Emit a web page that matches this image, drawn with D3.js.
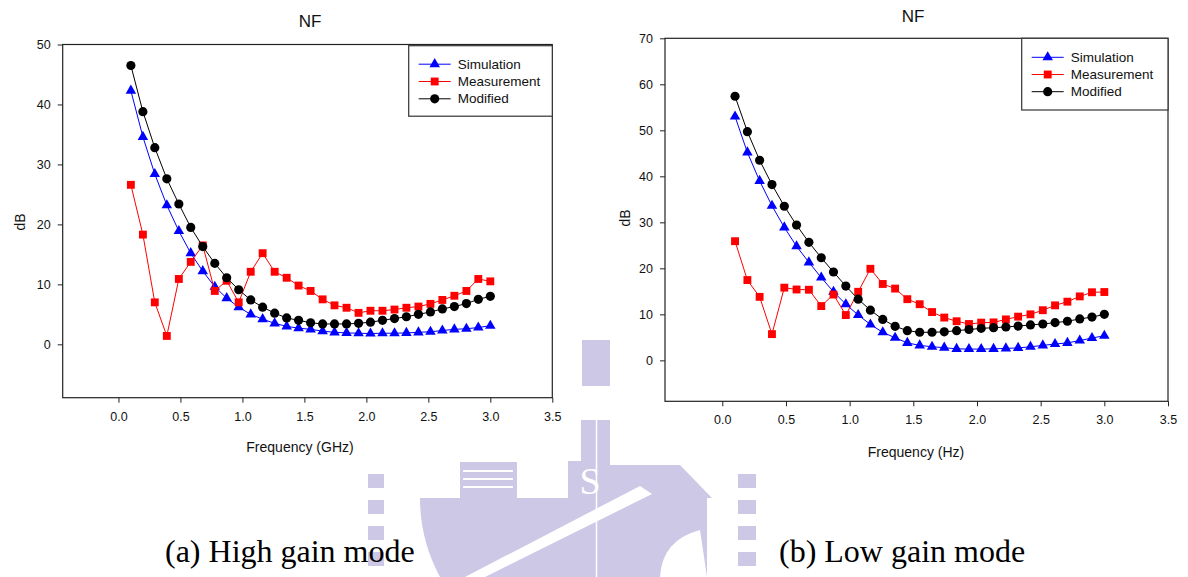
<!DOCTYPE html>
<html>
<head>
<meta charset="utf-8">
<script src="https://d3js.org/d3.v7.min.js"></script>
<style>
  body { margin:0; background:#fff; }
  svg text { font-family: Arial, "Liberation Sans", sans-serif; fill:#111; }
  svg text.caption { font-family: "Times New Roman", "Liberation Serif", serif; fill:#000; }
</style>
</head>
<body>
<div id="canvas"></div>
<script>
// frequency points (GHz), 31 sweep points
var freqs = [0.100,0.197,0.293,0.390,0.487,0.583,0.680,0.777,0.873,0.970,
             1.067,1.163,1.260,1.357,1.453,1.550,1.647,1.743,1.840,1.937,
             2.033,2.130,2.227,2.323,2.420,2.517,2.613,2.710,2.807,2.903,3.000];

// (a) high gain mode
var highSim  = [42.3,34.6,28.4,23.2,18.9,15.2,12.2,9.6,7.7,6.2,5.0,4.2,3.5,3.0,2.7,2.5,
                2.2,2.0,1.9,1.85,1.8,1.85,1.85,1.9,2.0,2.1,2.3,2.5,2.6,2.8,3.1];
var highMeas = [26.6,18.3,7.0,1.4,10.9,13.75,16.5,8.9,10.6,7.0,12.1,15.2,12.1,11.1,9.8,8.9,
                7.5,6.5,6.1,5.25,5.6,5.6,5.8,6.1,6.3,6.75,7.4,8.1,8.9,10.9,10.5];
var highMod  = [46.5,38.8,32.8,27.6,23.4,19.5,16.3,13.5,11.1,9.1,7.4,6.2,5.2,4.4,4.0,3.6,
                3.4,3.4,3.4,3.5,3.7,4.0,4.3,4.6,5.0,5.4,5.9,6.3,6.8,7.5,8.0];

// (b) low gain mode
var lowSim  = [53.0,45.2,39.0,33.6,28.9,24.8,21.3,18.0,14.9,12.2,9.85,7.8,6.1,4.9,3.8,3.25,
               2.95,2.75,2.5,2.45,2.45,2.5,2.6,2.7,2.95,3.25,3.55,3.8,4.3,4.85,5.35];
var lowMeas = [25.9,17.45,13.8,5.7,15.8,15.4,15.35,11.8,14.3,9.85,14.9,19.9,16.6,15.6,13.3,12.2,
               10.5,9.3,8.5,7.9,8.2,8.25,8.9,9.5,10.0,10.9,11.95,12.75,13.9,14.8,14.85];
var lowMod  = [57.4,49.7,43.5,38.2,33.5,29.4,25.65,22.3,19.2,16.15,13.3,10.9,8.9,7.4,6.45,6.1,
               6.1,6.2,6.45,6.7,6.95,7.1,7.25,7.45,7.7,7.9,8.2,8.5,9.0,9.4,10.0];

var seriesNames = ['Simulation','Measurement','Modified'];
var xTicks = [0.0,0.5,1.0,1.5,2.0,2.5,3.0,3.5];
var highTicks = [0,10,20,30,40,50];
var lowTicks = [0,10,20,30,40,50,60,70];

var W = 1188, H = 577;
var svg = d3.select('#canvas').append('svg')
    .attr('width', W).attr('height', H);

// faint logo watermark behind the two chart pictures
var wm = svg.append('g').attr('fill','#cec8e7');
wm.append('path')
    .attr('d','M420,498 L707,498 L707,577 L440,577 Q420,540 420,498 Z');
wm.append('rect').attr('x',460).attr('y',462).attr('width',57).attr('height',36);
wm.append('rect').attr('x',568).attr('y',420).attr('width',42).attr('height',80);
wm.append('rect').attr('x',582).attr('y',340).attr('width',28).attr('height',46);
wm.append('path').attr('d','M610,465 L680,465 L712,498 L610,498 Z');
[474,500,526,552].forEach(function(y){
    wm.append('rect').attr('x',368).attr('y',y).attr('width',16).attr('height',14);
    wm.append('rect').attr('x',738).attr('y',y).attr('width',18).attr('height',14);
});
var wmw = svg.append('g').attr('fill','#fff');
[470,478,486].forEach(function(y){
    wmw.append('rect').attr('x',463).attr('y',y).attr('width',50).attr('height',2);
});
wmw.append('path').attr('d','M640,486 L652,494 L485,577 L465,577 Z');
wmw.append('path').attr('d','M660,577 Q662,540 700,530 L707,577 Z');
svg.append('text').attr('class','caption').attr('x',590).attr('y',494)
    .attr('text-anchor','middle').style('font-size','38px').style('fill','#fff').text('S');
svg.append('line').attr('x1',596.5).attr('x2',596.5).attr('y1',420).attr('y2',577)
    .attr('stroke','#fff').attr('stroke-width',1.5);

// white picture areas of the two plots
svg.append('rect').attr('x',0).attr('y',0).attr('width',581).attr('height',461).attr('fill','#fff');
svg.append('rect').attr('x',610).attr('y',0).attr('width',578).attr('height',465).attr('fill','#fff');

var styles = [
    {color:'#0000ff', symbol:d3.symbolTriangle, size:48},
    {color:'#ff0000', symbol:d3.symbolSquare, size:62},
    {color:'#000000', symbol:d3.symbolCircle, size:66}
];

function drawChart(opt){
    var g = svg.append('g');
    var x = d3.scaleLinear().domain([-0.45, 3.5]).range([opt.l, opt.r]);
    var y = d3.scaleLinear().domain([-8.9, opt.ymax]).range([opt.b, opt.t]);

    // frame
    g.append('rect')
        .attr('x', opt.l).attr('y', opt.t)
        .attr('width', opt.r - opt.l).attr('height', opt.b - opt.t)
        .attr('fill','none').attr('stroke','#222').attr('stroke-width',1.2);

    var xAxis = g.append('g').attr('transform','translate(0,'+opt.b+')')
        .call(d3.axisBottom(x).tickValues(xTicks).tickSize(5).tickPadding(9)
              .tickFormat(d3.format('.1f')));
    var yAxis = g.append('g').attr('transform','translate('+opt.l+',0)')
        .call(d3.axisLeft(y).tickValues(opt.yTicks).tickSize(5).tickPadding(7));
    [xAxis, yAxis].forEach(function(a){
        a.select('.domain').remove();
        a.selectAll('line').attr('stroke','#222');
        a.selectAll('text').style('font-size','12.5px')
            .style('font-family','Arial, "Liberation Sans", sans-serif').attr('fill','#111');
    });

    g.append('text').attr('x', opt.titleX).attr('y', opt.titleY)
        .attr('text-anchor','middle').style('font-size','17px').text('NF');
    g.append('text').attr('x', opt.xlabX).attr('y', opt.xlabY)
        .attr('text-anchor','middle').style('font-size','14px').text(opt.xlabel);
    g.append('text')
        .attr('transform','translate('+opt.ylabX+','+opt.ylabY+') rotate(-90)')
        .attr('text-anchor','middle').style('font-size','14px').text('dB');

    var line = d3.line().x(function(d){return x(d[0]);}).y(function(d){return y(d[1]);});
    opt.series.forEach(function(vals, k){
        var pts = freqs.map(function(f,i){ return [f, vals[i]]; });
        g.append('path').datum(pts).attr('d', line)
            .attr('fill','none').attr('stroke', styles[k].color).attr('stroke-width',1);
        g.selectAll('.m'+k).data(pts).enter().append('path')
            .attr('transform', function(d){ return 'translate('+x(d[0])+','+y(d[1])+')'; })
            .attr('d', d3.symbol().type(styles[k].symbol).size(styles[k].size))
            .attr('fill', styles[k].color);
    });

    // legend
    var lg = opt.legend;
    g.append('rect').attr('x', lg.x).attr('y', lg.y)
        .attr('width', opt.r - lg.x).attr('height', lg.h)
        .attr('fill','#fff').attr('stroke','#333').attr('stroke-width',1.2);
    seriesNames.forEach(function(name, k){
        var yy = lg.y + lg.row0 + k*lg.step;
        g.append('line').attr('x1', lg.x + 10).attr('x2', lg.x + 42)
            .attr('y1', yy).attr('y2', yy).attr('stroke', styles[k].color);
        g.append('path').attr('transform','translate('+(lg.x+26)+','+yy+')')
            .attr('d', d3.symbol().type(styles[k].symbol).size(styles[k].size))
            .attr('fill', styles[k].color);
        g.append('text').attr('x', lg.x + 49).attr('y', yy + 4.5)
            .style('font-size','13.5px').text(name);
    });
}

drawChart({
    l:62.7, r:552.3, t:44.5, b:397.7, ymax:50, yTicks:highTicks,
    series:[highSim, highMeas, highMod],
    titleX:310, titleY:27, xlabX:300, xlabY:452, xlabel:'Frequency (GHz)',
    ylabX:25, ylabY:222,
    legend:{x:408.7, y:45.7, h:70.5, row0:18.5, step:17.3}
});

drawChart({
    l:665, r:1168, t:38.3, b:401.3, ymax:70, yTicks:lowTicks,
    series:[lowSim, lowMeas, lowMod],
    titleX:913, titleY:22, xlabX:916, xlabY:457, xlabel:'Frequency (Hz)',
    ylabX:630, ylabY:218,
    legend:{x:1021.7, y:38.3, h:71.7, row0:19, step:17.2}
});

svg.append('text').attr('class','caption').attr('x',165).attr('y',562)
    .style('font-size','32px').text('(a) High gain mode');
svg.append('text').attr('class','caption').attr('x',779).attr('y',562)
    .style('font-size','32px').text('(b) Low gain mode');
</script>
</body>
</html>
